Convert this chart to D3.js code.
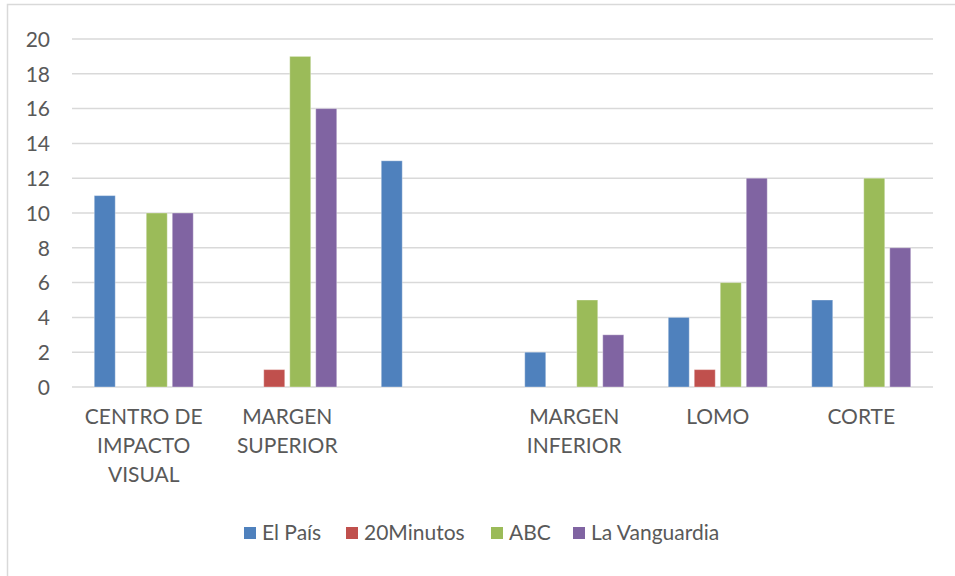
<!DOCTYPE html>
<html>
<head>
<meta charset="utf-8">
<script src="https://cdn.jsdelivr.net/npm/d3@7"></script>
<style>
html,body{margin:0;padding:0;background:#fff;}
svg{display:block;}
text{font-family:Lato,"Open Sans",sans-serif;fill:#595959;}
</style>
</head>
<body>
<svg id="chart" width="955" height="576"></svg>
<script>
const categories = ["CENTRO DE\nIMPACTO\nVISUAL", "MARGEN\nSUPERIOR", "", "MARGEN\nINFERIOR", "LOMO", "CORTE"];
const seriesNames = ["El País", "20Minutos", "ABC", "La Vanguardia"];
const elPais      = [11, 0, 13, 2, 4, 5];
const minutos20   = [0, 1, 0, 0, 1, 0];
const abc         = [10, 19, 0, 5, 6, 12];
const vanguardia  = [10, 16, 0, 3, 12, 8];
const colors = ["#4f81bd", "#c0504d", "#9bbb59", "#8064a2"];
const yTicks = [0, 2, 4, 6, 8, 10, 12, 14, 16, 18, 20];

const seriesValues = [elPais, minutos20, abc, vanguardia];
const svg = d3.select("#chart");
const FS = 21;

// outer frame
svg.append("rect").attr("x", 7.5).attr("y", 4.5).attr("width", 960).attr("height", 590)
  .attr("fill", "none").attr("stroke", "#d9d9d9").attr("stroke-width", 1.5);

const plot = {left: 72, right: 933, top: 39, bottom: 387};

const x0 = d3.scaleBand().domain(d3.range(categories.length))
  .range([plot.left, plot.right]).paddingInner(0).paddingOuter(0);
const x1 = d3.scaleBand().domain(d3.range(seriesNames.length))
  .range([0, 104]).paddingInner(0.2).paddingOuter(0);
const y = d3.scaleLinear().domain([0, 20]).range([plot.bottom, plot.top]);

// gridlines
svg.append("g").selectAll("line").data(yTicks).join("line")
  .attr("x1", plot.left).attr("x2", plot.right)
  .attr("y1", d => y(d)).attr("y2", d => y(d))
  .attr("stroke", "#d9d9d9").attr("stroke-width", 1.5);

// y axis labels
const yAxis = d3.axisLeft(y).tickValues(yTicks).tickSize(0).tickPadding(0);
const gy = svg.append("g").attr("transform", `translate(50,0)`).call(yAxis);
gy.select(".domain").remove();
gy.selectAll("text").attr("font-size", FS).attr("font-family", "Lato, 'Open Sans', sans-serif")
  .attr("fill", "#595959").attr("dy", "0.35em");

// bars
const groupW = 99;
const groups = svg.append("g").selectAll("g").data(categories.map((c, i) => i)).join("g")
  .attr("transform", i => `translate(${x0(i) + x0.bandwidth() / 2 - groupW / 2},0)`);
groups.selectAll("rect")
  .data(i => seriesValues.map((vals, s) => ({s, v: vals[i]})).filter(d => d.v > 0))
  .join("rect")
  .attr("x", d => x1(d.s) * (26 / x1.step()))
  .attr("width", 21)
  .attr("y", d => y(d.v))
  .attr("height", d => y(0) - y(d.v))
  .attr("fill", d => colors[d.s])
  .attr("stroke", "#ffffff").attr("stroke-opacity", 0.35).attr("stroke-width", 1);

// category labels
const cat = svg.append("g").selectAll("text").data(categories.map((c, i) => i)).join("text")
  .attr("text-anchor", "middle")
  .attr("font-size", FS)
  .attr("x", i => x0(i) + x0.bandwidth() / 2)
  .attr("y", 424);
cat.selectAll("tspan").data(i => categories[i].split("\n")).join("tspan")
  .attr("x", function () { return d3.select(this.parentNode).attr("x"); })
  .attr("dy", (d, j) => j === 0 ? 0 : 29)
  .text(d => d);

// legend
const legendX = [244, 346, 491, 573];
const leg = svg.append("g").selectAll("g").data(seriesNames).join("g")
  .attr("transform", (d, i) => `translate(${legendX[i]},527)`);
leg.append("rect").attr("width", 12).attr("height", 12).attr("fill", (d, i) => colors[i]);
leg.append("text").attr("x", 18).attr("y", 6).attr("dy", "0.35em")
  .attr("font-size", FS).text(d => d);
</script>
</body>
</html>
